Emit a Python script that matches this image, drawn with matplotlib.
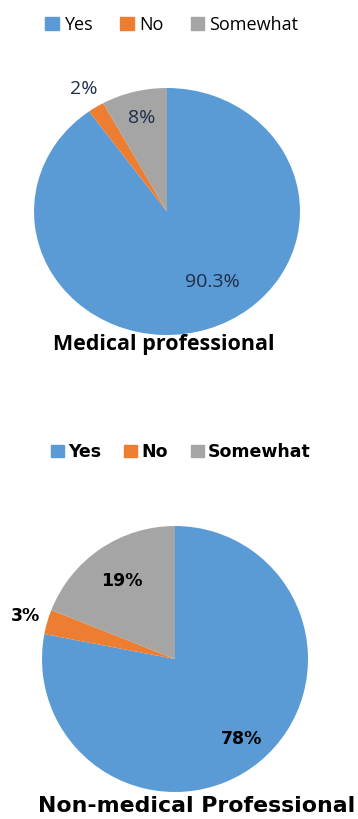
import numpy as np
import matplotlib.pyplot as plt

categories = ['Yes', 'No', 'Somewhat']
colors = ['#5B9BD5', '#ED7D31', '#A5A5A5']

medical_values = [90.3, 2, 8]
medical_labels = ['90.3%', '2%', '8%']
nonmedical_values = [78, 3, 19]
nonmedical_labels = ['78%', '3%', '19%']

W, H = 358, 819
fig = plt.figure(figsize=(W / 100, H / 100), dpi=100)


def px_axes(left, top, width, height):
    # axes from pixel box (top-left origin)
    return fig.add_axes([left / W, 1 - (top + height) / H, width / W, height / H])


def draw_pie(ax, values, labels, dist, offs, font):
    wedges, _ = ax.pie(values, colors=colors, startangle=90, counterclock=False,
                       wedgeprops=dict(linewidth=0))
    ax.set_aspect('auto')
    ax.set_xlim(-1, 1)
    ax.set_ylim(-1, 1)
    for w, lab, d, o in zip(wedges, labels, dist, offs):
        a = np.deg2rad((w.theta1 + w.theta2) / 2 + o)
        ax.text(d * np.cos(a), d * np.sin(a), lab, ha='center', va='center', **font)


handles = [plt.Rectangle((0, 0), 1, 1, color=c) for c in colors]

# top chart
ax1 = px_axes(34, 88, 266, 247)
draw_pie(ax1, medical_values, medical_labels, [0.67, 1.17, 0.78], [13, 0, 0],
         dict(fontsize=14, color='#1F2D4A', family='Open Sans'))
ax1.texts[1].set_color('#333333')
ax1.texts[2].set_color('#333333')

fig.legend(handles, categories, loc='center', bbox_to_anchor=(172 / W, 1 - 25 / H),
           ncol=3, frameon=False, handlelength=0.75, handleheight=0.75,
           handletextpad=0.3, columnspacing=1.5,
           prop=dict(family='Open Sans', size=13))
fig.text(164 / W, 1 - 344 / H, 'Medical professional', ha='center', va='center',
         fontsize=15.5, fontweight='bold', family='Open Sans')

# bottom chart
ax2 = px_axes(42, 526, 266, 266)
draw_pie(ax2, nonmedical_values, nonmedical_labels, [0.78, 1.17, 0.71], [0, 0, 0],
         dict(fontsize=12.5, color='black', family='DejaVu Sans', fontweight='bold'))
ax2.texts[0].set_color('#0B1A33')

fig.legend(handles, categories, loc='center', bbox_to_anchor=(181 / W, 1 - 452 / H),
           ncol=3, frameon=False, handlelength=0.75, handleheight=0.75,
           handletextpad=0.25, columnspacing=1.3,
           prop=dict(family='DejaVu Sans', size=12.5, weight='bold'))
fig.text(38 / W, 1 - 806 / H, 'Non-medical Professional', ha='left', va='center',
         fontsize=15.8, fontweight='bold', family='DejaVu Sans')

fig.savefig('out.png', dpi=100)
